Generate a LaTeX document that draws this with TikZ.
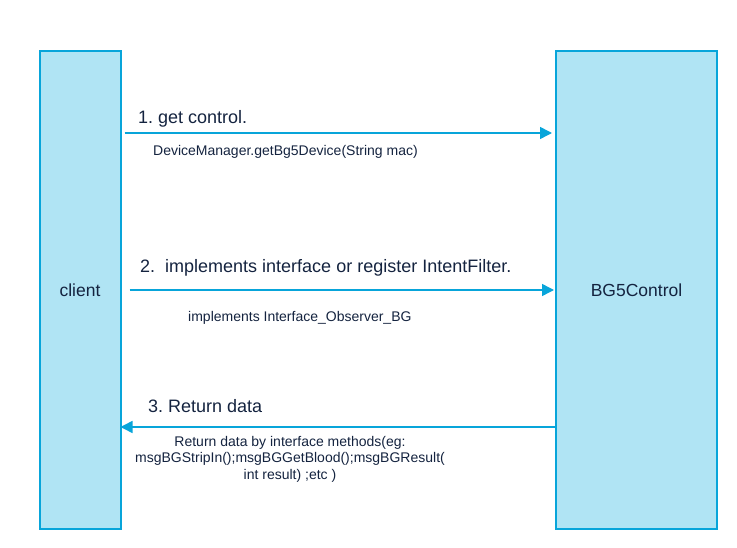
\documentclass[tikz,border=0pt]{standalone}
\usepackage{fontspec}
\setmainfont{Liberation Sans}
\usepackage{tikz}
\usetikzlibrary{arrows.meta,positioning,calc}
\definecolor{boxfill}{HTML}{B0E4F4}
\definecolor{boxline}{HTML}{08A5DA}
\definecolor{ink}{HTML}{14233F}
\frenchspacing
\tikzset{
  party/.style={draw=boxline, fill=boxfill, line width=2pt, font=\fontsize{17.5}{20}\selectfont, text=ink, inner sep=0pt},
  msg/.style={draw=boxline, line width=1.5pt, -{Triangle[length=12pt,width=12pt]}},
  stepcap/.style={font=\fontsize{18}{21}\selectfont, text=ink, inner sep=0pt, anchor=west},
  call/.style={font=\fontsize{14}{16.5}\selectfont, text=ink, inner sep=0pt}
}
\begin{document}
\begin{tikzpicture}[x=1pt, y=-1pt]
\useasboundingbox (0,0) rectangle (737,548);
\node[party, minimum width=81pt, minimum height=477pt] (client) at (80,290) {client};
\node[party, minimum width=161pt, minimum height=477pt] (ctrl) at (636.5,290) {BG5Control};
% request rows
\coordinate (r1) at (0,133);
\coordinate (r2) at (0,290);
\coordinate (r3) at (0,427);
\draw[msg] ([xshift=3pt]client.east |- r1) -- ([xshift=-3pt]ctrl.west |- r1);
\draw[msg] ([xshift=8pt]client.east |- r2) -- ([xshift=-1pt]ctrl.west |- r2);
\draw[msg] (ctrl.west |- r3) -- ([xshift=-1pt]client.east |- r3);
\node[stepcap] (s1) at (138,119) {1. get control.};
\node[call, anchor=west] (c1) at (153,152) {DeviceManager.getBg5Device(String mac)};
\node[stepcap] (s2) at (140,268) {2.\ \ implements interface or register IntentFilter.};
\node[call, anchor=west] (c2) at (188,318) {implements Interface\_Observer\_BG};
\node[stepcap] (s3) at (148,406) {3. Return data};
\node[call, align=center] (c3) at (290,459) {Return data by interface methods(eg:\\msgBGStripIn();msgBGGetBlood();msgBGResult(\\int result) ;etc )};
\end{tikzpicture}
\end{document}
